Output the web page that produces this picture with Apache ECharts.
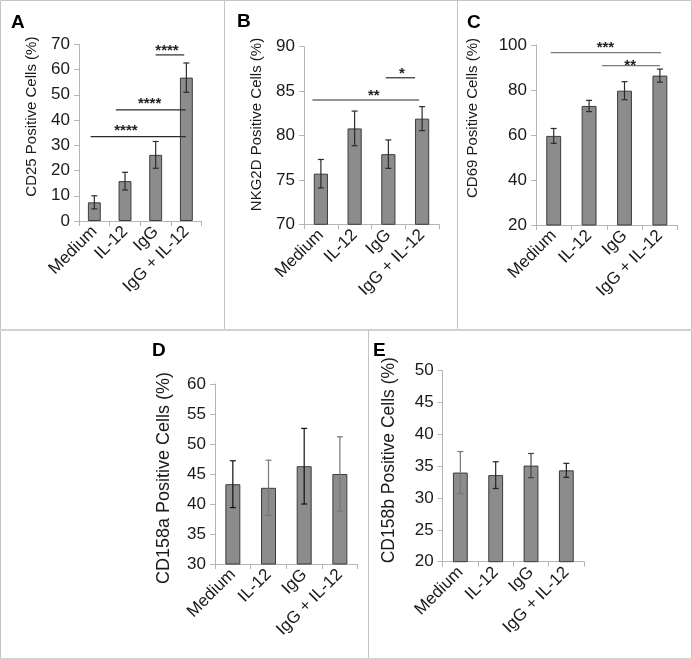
<!DOCTYPE html>
<html>
<head>
<meta charset="utf-8">
<script src="https://cdn.jsdelivr.net/npm/echarts@6/dist/echarts.min.js"></script>
<style>
html,body{margin:0;padding:0;background:#fff;}
#chart{width:692px;height:660px;}
</style>
</head>
<body>
<div id="chart"></div>
<script>
// ---- data ----
const categories = ['Medium', 'IL-12', 'IgG', 'IgG + IL-12'];

const cd25 = [7.4, 15.8, 26.2, 56.8];
const cd25Err = [2.6, 3.5, 5.3, 5.8];
const cd25Axis = [0, 70, 10];
// [fromIdx, toIdx, y, stars, labelIdx, labelY]
const cd25Sig = [
  [2.0, 2.93, 65.8, '****', 2.37, 69.1],
  [0.70, 2.98, 44.0, '****', 1.80, 48.1],
  [-0.12, 2.98, 33.4, '****', 1.03, 37.2]
];

const nkg2d = [75.7, 80.8, 77.9, 81.9];
const nkg2dErr = [1.6, 1.95, 1.6, 1.35];
const nkg2dAxis = [70, 90, 5];
const nkg2dSig = [
  [1.92, 2.79, 86.5, '*', 2.40, 87.4],
  [-0.25, 2.91, 84.0, '**', 1.57, 84.9]
];

const cd69 = [59.6, 72.9, 79.7, 86.4];
const cd69Err = [3.3, 2.5, 4.0, 2.9];
const cd69Axis = [20, 100, 20];
const cd69Sig = [
  [-0.085, 3.03, 96.6, '***', 1.46, 100.5],
  [1.36, 3.0, 90.8, '**', 2.16, 92.4]
];

const cd158a = [43.3, 42.7, 46.3, 45.0];
const cd158aErr = [3.9, 4.6, 6.3, 6.2];
const cd158aAxis = [30, 60, 5];

const cd158b = [34.0, 33.6, 35.1, 34.35];
const cd158bErr = [3.3, 2.1, 1.9, 1.1];
const cd158bAxis = [20, 50, 5];

const axisNames = ['CD25 Positive Cells (%)', 'NKG2D Positive Cells (%)', 'CD69 Positive Cells (%)',
  'CD158a Positive Cells (%)', 'CD158b Positive Cells (%)'];
const panelLetters = ['A', 'B', 'C', 'D', 'E'];

// ---- layout / style ----
const FONT = "'Liberation Sans', Arial, sans-serif";
const panels = [
  {vals: cd25, err: cd25Err, axis: cd25Axis, sig: cd25Sig, grid: {left: 79, top: 44.3, width: 122.7, height: 176.7}, nameGap: 40, nameShift: 16, nameSize: 15, sigColor: '#2a2a2a', errColors: null},
  {vals: nkg2d, err: nkg2dErr, axis: nkg2dAxis, sig: nkg2dSig, grid: {left: 304, top: 46.7, width: 135, height: 177.6}, nameGap: 40, nameShift: 11, nameSize: 15, sigColor: '#2a2a2a', errColors: null},
  {vals: cd69, err: cd69Err, axis: cd69Axis, sig: cd69Sig, grid: {left: 536, top: 45, width: 141.6, height: 180}, nameGap: 56, nameShift: 17, nameSize: 15, sigColor: '#7a7a7a', errColors: null},
  {vals: cd158a, err: cd158aErr, axis: cd158aAxis, sig: [], grid: {left: 215, top: 384, width: 142.7, height: 180}, nameGap: 42, nameShift: -4, nameSize: 18, sigColor: '#2a2a2a', errColors: ['#111', '#777', '#111', '#777']},
  {vals: cd158b, err: cd158bErr, axis: cd158bAxis, sig: [], grid: {left: 442.7, top: 370.7, width: 141.3, height: 191}, nameGap: 45, nameShift: 6, nameSize: 17.5, sigColor: '#2a2a2a', errColors: ['#777', '#222', '#444', '#222']}
];

const axisColor = '#b5b5b5';
const textColor = '#1a1a1a';

const grids = [], xAxes = [], yAxes = [], series = [];

panels.forEach((p, k) => {
  grids.push(Object.assign({containLabel: false}, p.grid));
  xAxes.push({
    gridIndex: k, type: 'category', data: categories,
    axisLine: {show: true, lineStyle: {color: axisColor}},
    axisTick: {show: true, length: 5, lineStyle: {color: axisColor}},
    axisLabel: {rotate: 45, interval: 0, fontSize: 17, color: textColor, fontFamily: FONT, margin: 8}
  });
  const pad = p.nameShift >= 0 ? [0, 0, 0, 2 * p.nameShift] : [0, -2 * p.nameShift, 0, 0];
  yAxes.push({
    gridIndex: k, type: 'value', min: p.axis[0], max: p.axis[1], interval: p.axis[2],
    axisLine: {show: true, lineStyle: {color: axisColor}},
    axisTick: {show: true, length: 5, lineStyle: {color: axisColor}},
    splitLine: {show: false},
    axisLabel: {fontSize: 17, color: textColor, fontFamily: FONT, margin: 9},
    name: axisNames[k], nameLocation: 'middle', nameGap: p.nameGap, nameRotate: 90,
    nameTextStyle: {fontSize: p.nameSize, color: textColor, fontFamily: FONT, padding: pad}
  });
  series.push({
    type: 'bar', xAxisIndex: k, yAxisIndex: k, data: p.vals, barWidth: '42%', z: 2,
    itemStyle: {color: '#8c8c8c', borderColor: '#3c3c3c', borderWidth: 1},
    silent: true, animation: false
  });
  series.push({
    type: 'custom', xAxisIndex: k, yAxisIndex: k, clip: false, silent: true, animation: false, z: 5,
    data: p.vals.map((v, i) => [i, v, p.err[i]]),
    encode: {x: 0, y: 1},
    renderItem: function (params, api) {
      const i = api.value(0), v = api.value(1), e = api.value(2);
      const top = api.coord([i, v + e]);
      const bot = api.coord([i, v - e]);
      const c = p.errColors ? p.errColors[params.dataIndex] : '#2b2b2b';
      const st = {stroke: c, lineWidth: 1.2};
      const h = 3;
      return {type: 'group', children: [
        {type: 'line', shape: {x1: top[0], y1: top[1], x2: bot[0], y2: bot[1]}, style: st},
        {type: 'line', shape: {x1: top[0] - h, y1: top[1], x2: top[0] + h, y2: top[1]}, style: st},
        {type: 'line', shape: {x1: bot[0] - h, y1: bot[1], x2: bot[0] + h, y2: bot[1]}, style: st}
      ]};
    }
  });
  if (p.sig.length) {
    series.push({
      type: 'custom', xAxisIndex: k, yAxisIndex: k, clip: false, silent: true, animation: false, z: 5,
      data: p.sig.map(s => [0, s[2]]),
      encode: {x: 0, y: 1},
      renderItem: function (params, api) {
        const s = p.sig[params.dataIndex];
        const p0 = api.coord([0, s[2]]);
        const p1 = api.coord([1, s[2]]);
        const step = p1[0] - p0[0];
        const x1 = p0[0] + s[0] * step, x2 = p0[0] + s[1] * step;
        const lp = api.coord([0, s[5]]);
        const lx = p0[0] + s[4] * step;
        return {type: 'group', children: [
          {type: 'line', shape: {x1: x1, y1: p0[1], x2: x2, y2: p0[1]}, style: {stroke: p.sigColor, lineWidth: 1.2}},
          {type: 'text', x: lx, y: lp[1] + 4, style: {text: s[3], fill: '#222', font: 'bold 15px ' + FONT, align: 'center', verticalAlign: 'middle'}}
        ]};
      }
    });
  }
});

// panel frames and letters
const frameColor = '#c4c4c4';
const graphic = [
  {type: 'rect', shape: {x: 0.5, y: 0.5, width: 691, height: 658}, style: {fill: 'none', stroke: frameColor, lineWidth: 1}, silent: true},
  {type: 'line', shape: {x1: 224.5, y1: 0, x2: 224.5, y2: 330}, style: {stroke: frameColor, lineWidth: 1}, silent: true},
  {type: 'line', shape: {x1: 457.5, y1: 0, x2: 457.5, y2: 330}, style: {stroke: frameColor, lineWidth: 1}, silent: true},
  {type: 'line', shape: {x1: 0, y1: 330, x2: 692, y2: 330}, style: {stroke: '#d2d2d2', lineWidth: 2}, silent: true},
  {type: 'line', shape: {x1: 368.5, y1: 330, x2: 368.5, y2: 660}, style: {stroke: frameColor, lineWidth: 1}, silent: true},
  {type: 'line', shape: {x1: 0, y1: 659, x2: 692, y2: 659}, style: {stroke: '#d2d2d2', lineWidth: 2}, silent: true}
];
const letterPos = [[11, 13], [237, 12], [467, 13], [152, 341], [373, 341]];
panelLetters.forEach((L, i) => {
  graphic.push({type: 'text', x: letterPos[i][0], y: letterPos[i][1], silent: true,
    style: {text: L, fill: '#000', font: 'bold 19px ' + FONT, align: 'left', verticalAlign: 'top'}});
});

const chart = echarts.init(document.getElementById('chart'), null, {renderer: 'canvas'});
chart.setOption({
  animation: false,
  backgroundColor: '#ffffff',
  grid: grids, xAxis: xAxes, yAxis: yAxes, series: series, graphic: graphic
});
</script>
</body>
</html>
